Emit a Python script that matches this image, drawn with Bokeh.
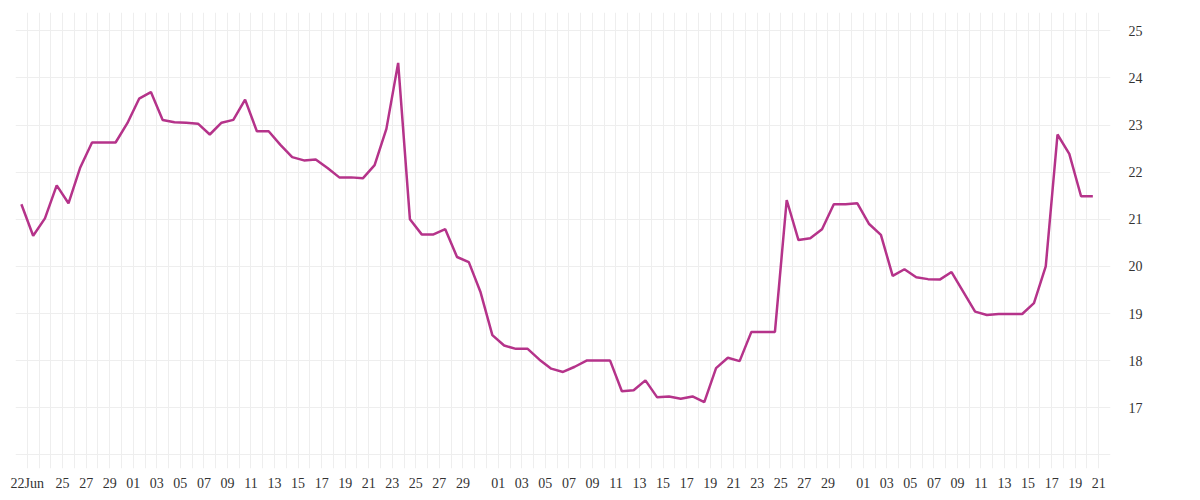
import pandas as pd
from bokeh.plotting import figure
from bokeh.models import FixedTicker, Range1d, ColumnDataSource
from bokeh.embed import file_html
from bokeh.resources import INLINE

start_date = "2023-06-22"

# daily values, 22 Jun .. 21 Sep
values_jun = [21.32, 20.65, 21.02, 21.72, 21.34, 22.10, 22.63, 22.63, 22.63]
values_jul = [23.04, 23.56, 23.70, 23.11, 23.06, 23.05, 23.03, 22.80, 23.05, 23.11,
              23.54, 22.87, 22.87, 22.58, 22.32, 22.25, 22.27, 22.09, 21.89, 21.89,
              21.87, 22.15, 22.92, 24.32, 21.00, 20.68, 20.68, 20.79, 20.20, 20.09,
              19.45]
values_aug = [18.54, 18.32, 18.25, 18.25, 18.02, 17.83, 17.76, 17.87, 18.00, 18.00,
              18.00, 17.35, 17.37, 17.58, 17.22, 17.24, 17.19, 17.24, 17.12, 17.84,
              18.06, 17.99, 18.61, 18.61, 18.61, 21.41, 20.56, 20.60, 20.79, 21.32,
              21.32]
values_sep = [21.34, 20.90, 20.67, 19.80, 19.94, 19.77, 19.73, 19.72, 19.88, 19.46,
              19.04, 18.97, 18.99, 18.99, 18.99, 19.22, 20.00, 22.80, 22.39, 21.49,
              21.49]
values = values_jun + values_jul + values_aug + values_sep

tick_dates = ["2023-06-22", "2023-06-25", "2023-06-27", "2023-06-29"] + \
    ["2023-07-%02d" % d for d in range(1, 30, 2)] + \
    ["2023-08-%02d" % d for d in range(1, 30, 2)] + \
    ["2023-09-%02d" % d for d in range(1, 22, 2)]
tick_labels = ["22Jun", "25", "27", "29"] + \
    ["%02d" % d for d in range(1, 30, 2)] + \
    ["%02d" % d for d in range(1, 30, 2)] + \
    ["%02d" % d for d in range(1, 22, 2)]

y_ticks = [17, 18, 19, 20, 21, 22, 23, 24, 25]
y_grid = [16, 17, 18, 19, 20, 21, 22, 23, 24, 25]

dates = pd.date_range(start_date, periods=len(values), freq="D")


def ms(d):
    return int(pd.Timestamp(d).value // 10**6)


half_day = 12 * 3600 * 1000
day = 2 * half_day

source = ColumnDataSource(data=dict(date=dates, value=values))

x0 = ms(dates[0]) - half_day
x1 = ms(dates[-1]) + 3 * half_day

p = figure(x_axis_type="datetime", y_axis_location="right",
           frame_width=1095, frame_height=456,
           x_range=Range1d(x0, x1), y_range=Range1d(15.71, 25.39),
           output_backend="svg", toolbar_location=None,
           min_border_left=15, min_border_top=12, min_border_right=10, min_border_bottom=10)

p.line("date", "value", source=source, line_color="#b5338a", line_width=2.5)

# grid
grid_ticks = list(range(x0, x1 + 1, day))
p.xgrid.ticker = FixedTicker(ticks=grid_ticks)
p.ygrid.ticker = FixedTicker(ticks=y_grid)
for g in (p.xgrid, p.ygrid):
    g.grid_line_color = "#eeeeee"
    g.grid_line_width = 1

# x axis
xt = [ms(d) + half_day for d in tick_dates]
p.xaxis.ticker = FixedTicker(ticks=xt)
p.xaxis.major_label_overrides = {t: lab for t, lab in zip(xt, tick_labels)}
p.yaxis.ticker = FixedTicker(ticks=y_ticks)

for ax in (p.xaxis, p.yaxis):
    ax.axis_line_color = None
    ax.major_tick_line_color = None
    ax.minor_tick_line_color = None
    ax.major_tick_out = 0
    ax.major_tick_in = 0
    ax.minor_tick_out = 0
    ax.major_label_text_font = "Liberation Serif"
    ax.major_label_text_font_size = "14px"
    ax.major_label_text_color = "#333333"
p.xaxis.major_label_standoff = 7
p.yaxis.major_label_standoff = 18

p.outline_line_color = None
p.background_fill_color = "white"
p.border_fill_color = "white"

open("out.html", "w").write(file_html(p, INLINE))
